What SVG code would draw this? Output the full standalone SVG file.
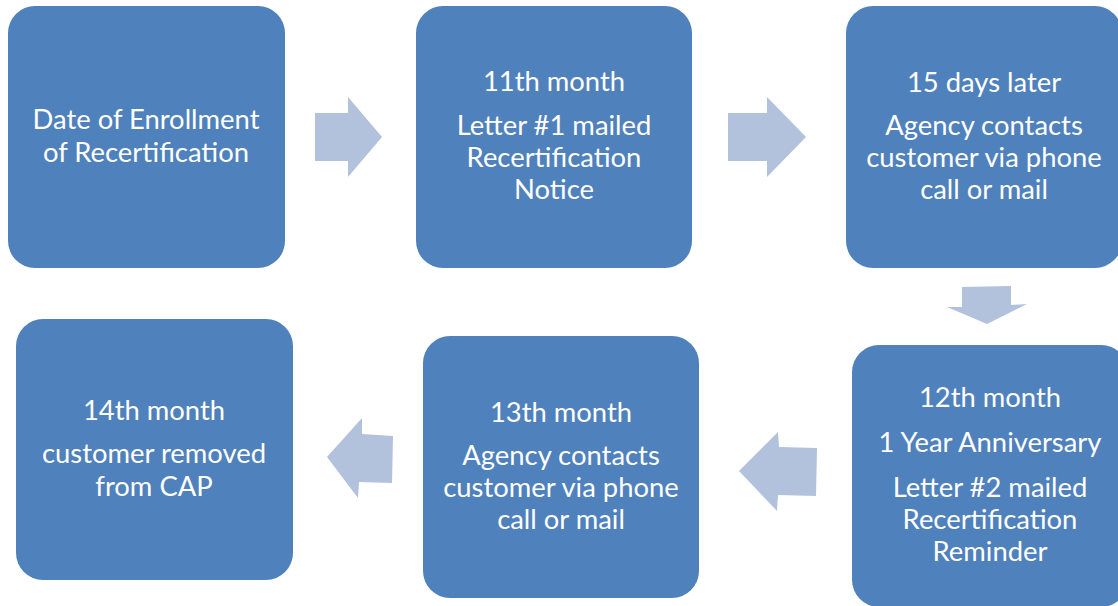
<svg xmlns="http://www.w3.org/2000/svg" width="1118" height="606" viewBox="0 0 1118 606">
<style>
.box{fill:#4F81BD;}
.arr{fill:#B2C1DC;}
text{font-family:Lato,"Open Sans","Liberation Sans",sans-serif;font-size:27.4px;fill:#FFFFFF;text-anchor:middle;}
</style>
<rect width="1118" height="606" fill="#FFFFFF"/>
<g id="connectors">
<polygon class="arr" points="315,113 348,113 348,97 382,137 348,177 348,161 315,161"/>
<polygon class="arr" points="728,113 767,113 767,97 806,137 767,177 767,161 728,161"/>
<polygon class="arr" points="962,287 1011,286 1011,305 1027,304 987,324 947,307 962,307"/>
<polygon class="arr" points="817,448 779,447 778,432 739,471 777,511 778,495 816,496"/>
<polygon class="arr" points="393,436 362,434 362,418 327,457 358,498 359,482 392,483"/>
</g>
<g id="node1">
<rect class="box" x="8" y="6" width="277" height="262" rx="27"/>
<text x="146" y="129">Date of Enrollment</text>
<text x="146" y="162">of Recertification</text>
</g>
<g id="node2">
<rect class="box" x="416" y="6" width="276" height="262" rx="27"/>
<text x="554" y="91">11th month</text>
<text x="554" y="135">Letter #1 mailed</text>
<text x="554" y="167">Recertification</text>
<text x="554" y="199">Notice</text>
</g>
<g id="node3">
<rect class="box" x="846" y="6" width="276" height="262" rx="27"/>
<text x="984" y="92">15 days later</text>
<text x="984" y="135">Agency contacts</text>
<text x="984" y="167">customer via phone</text>
<text x="984" y="199">call or mail</text>
</g>
<g id="node4">
<rect class="box" x="852" y="345" width="276" height="262" rx="27"/>
<text x="990" y="407">12th month</text>
<text x="990" y="452">1 Year Anniversary</text>
<text x="990" y="497">Letter #2 mailed</text>
<text x="990" y="529">Recertification</text>
<text x="990" y="561">Reminder</text>
</g>
<g id="node5">
<rect class="box" x="423" y="336" width="276" height="262" rx="27"/>
<text x="561" y="422">13th month</text>
<text x="561" y="465">Agency contacts</text>
<text x="561" y="497">customer via phone</text>
<text x="561" y="529">call or mail</text>
</g>
<g id="node6">
<rect class="box" x="16" y="319" width="277" height="261" rx="27"/>
<text x="154" y="420">14th month</text>
<text x="154" y="463">customer removed</text>
<text x="154" y="496">from CAP</text>
</g>
</svg>
